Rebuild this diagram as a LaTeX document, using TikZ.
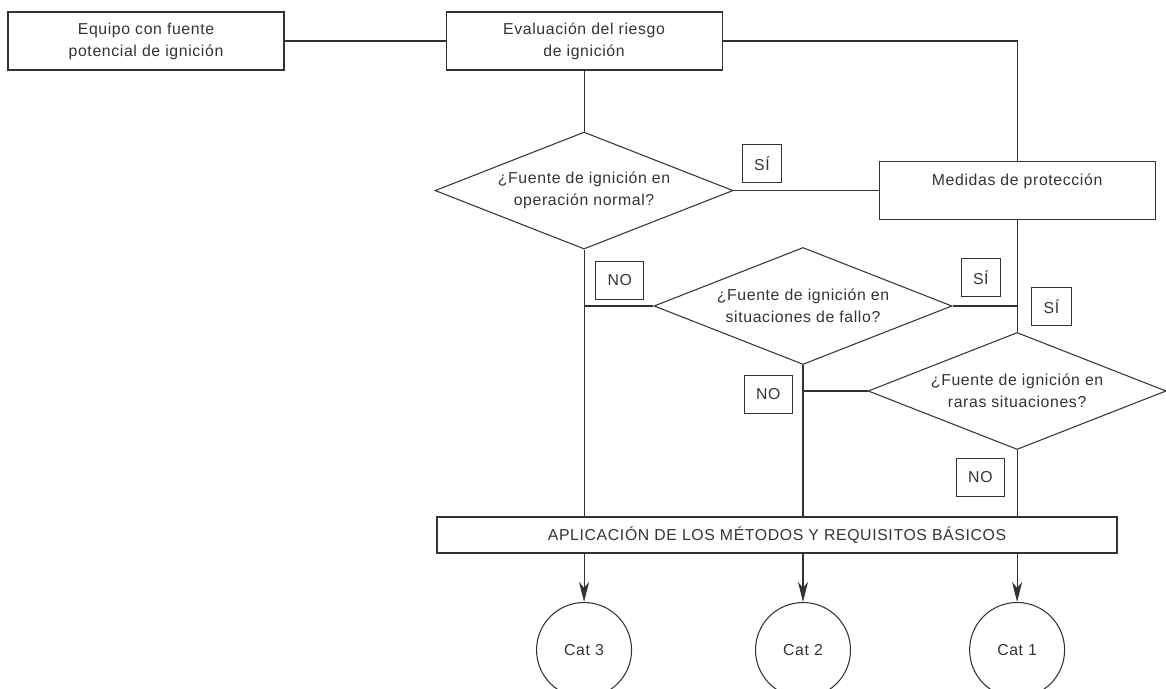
\documentclass[tikz,border=0pt]{standalone}
\usepackage{fontspec}
\setmainfont[LetterSpace=4]{Liberation Sans}
\usetikzlibrary{positioning, shapes.geometric, arrows.meta}

\begin{document}
\begin{tikzpicture}[line width=0.6pt, color=black!80,
    every node/.style={font=\fontsize{9}{12.5}\selectfont},
    proc/.style={draw, rectangle, minimum width=5.52cm, minimum height=1.16cm, align=center, inner sep=2pt},
    query/.style={draw, diamond, aspect=2.56, minimum width=5.96cm, minimum height=2.34cm, align=center, inner sep=0pt},
    tag/.style={draw, rectangle, minimum height=0.76cm, inner xsep=0.24cm, inner ysep=2pt},
    cat/.style={draw, circle, minimum size=1.9cm, inner sep=0pt},
    flow/.style={-{Stealth[length=4mm, width=2mm, inset=1.2mm]}}
  ]
  \useasboundingbox (0,0) rectangle (23.32,-13.78);
  \clip (0,0) rectangle (23.32,-13.78);

  \node[proc] (equipo) at (2.92,-0.82) {Equipo con fuente\\potencial de ignición};
  \node[proc, right=3.22cm of equipo] (evalua) {Evaluación del riesgo\\de ignición};
  \node[query, below=1.22cm of evalua] (normal) {¿Fuente de ignición en\\operación normal?};
  \node[proc, right=2.9cm of normal] (medidas) {Medidas de protección\\\mbox{}};
  \node[query] (fallo) at (16.06,-6.12) {¿Fuente de ignición en\\situaciones de fallo?};
  \node[query] (raras) at (medidas |- 0,-7.82) {¿Fuente de ignición en\\raras situaciones?};
  \node[draw, minimum width=13.6cm, minimum height=0.72cm] (metodos) at (15.54,-10.70)
    {APLICACIÓN DE LOS MÉTODOS Y REQUISITOS BÁSICOS};

  \node[cat] (cat3) at (normal |- 0,-13.0) {Cat 3};
  \node[cat] (cat2) at (fallo |- cat3) {Cat 2};
  \node[cat] (cat1) at (raras |- cat3) {Cat 1};

  % respuestas
  \node[tag, above right=0.15cm and 0.16cm of normal.east] (si1) {SÍ};
  \node[tag, below right=0.22cm and 0.22cm of normal.south] (no1) {NO};
  \node[tag, above right=0.18cm and 0.16cm of fallo.east] (si2) {SÍ};
  \node[tag, above right=0.12cm and 0.28cm of raras.north] (si3) {SÍ};
  \node[tag, below left=0.2cm and 0.2cm of fallo.south] (no2) {NO};
  \node[tag, below left=0.16cm and 0.24cm of raras.south] (no3) {NO};

  \draw (equipo) -- (evalua);
  \draw (evalua.east) -| (medidas.north);
  \draw (evalua) -- (normal);
  \draw (normal) -- (medidas);
  \draw (normal.south) -- (normal.south |- metodos.north);
  \draw (normal.south |- fallo.west) -- (fallo.west);
  \draw (fallo.east) -- (fallo.east -| medidas.south);
  \draw (medidas.south) -- (raras.north);
  \draw (fallo.south) -- (fallo.south |- metodos.north);
  \draw (raras.west) -- (raras.west -| fallo.south);
  \draw (raras.south) -- (raras.south |- metodos.north);

  \draw[flow] (metodos.south -| cat3) -- (cat3);
  \draw[flow] (metodos.south -| cat2) -- (cat2);
  \draw[flow] (metodos.south -| cat1) -- (cat1);
\end{tikzpicture}
\end{document}
